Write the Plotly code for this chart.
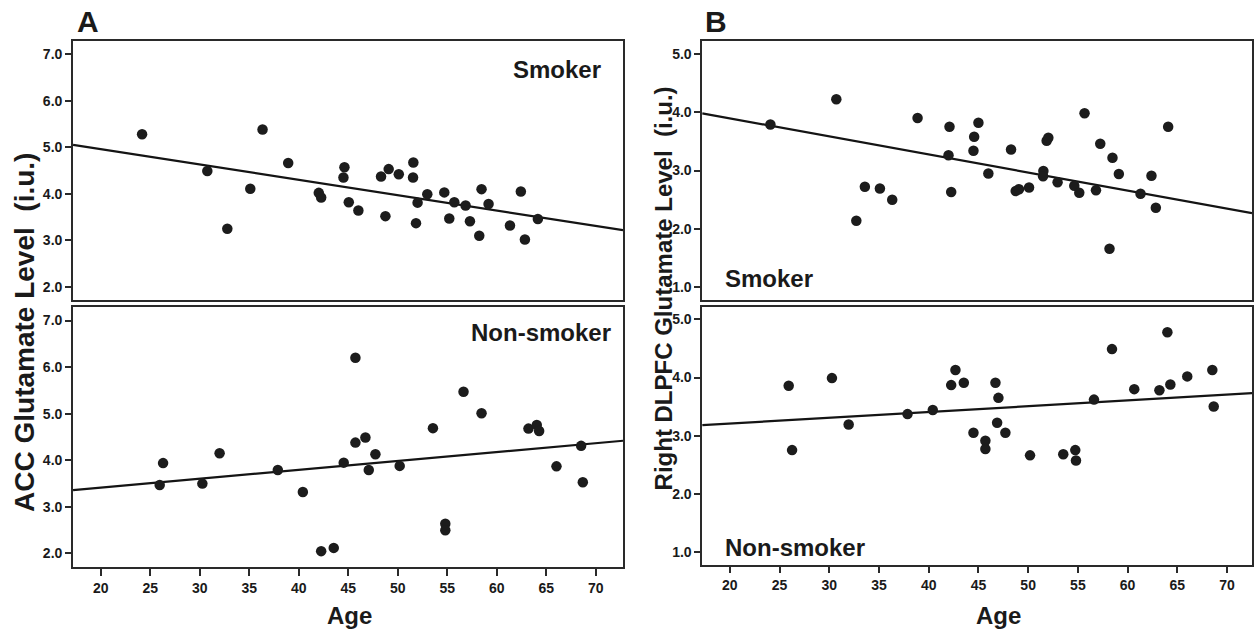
import plotly.graph_objects as go

# ---------------- data ----------------
acc_smoker_age = [24.17, 30.76, 32.78, 35.10, 36.34, 38.93, 42.02, 42.26, 44.61, 44.51,
                  45.05, 46.02, 48.31, 49.08, 48.75, 50.10, 51.57, 51.54, 52.00, 51.84,
                  52.98, 54.70, 55.20, 55.71, 56.85, 57.29, 58.23, 58.46, 59.17, 61.33,
                  62.43, 62.84, 64.15]
acc_smoker_glu = [5.28, 4.49, 3.25, 4.11, 5.38, 4.66, 4.02, 3.92, 4.57, 4.35,
                  3.82, 3.64, 4.37, 4.53, 3.52, 4.42, 4.67, 4.35, 3.81, 3.37,
                  3.99, 4.03, 3.47, 3.82, 3.75, 3.41, 3.10, 4.10, 3.78, 3.32,
                  4.05, 3.02, 3.46]
acc_smoker_fit_age = [17.2, 72.75]
acc_smoker_fit_glu = [5.05, 3.22]

acc_non_age = [25.95, 26.29, 30.26, 32.00, 37.88, 40.41, 42.26, 43.53, 44.54, 45.72,
               45.72, 46.73, 47.07, 47.74, 50.19, 53.55, 54.80, 54.80, 56.64, 58.46,
               63.20, 64.04, 64.28, 66.03, 68.52, 68.69]
acc_non_glu = [3.47, 3.94, 3.50, 4.15, 3.79, 3.32, 2.05, 2.12, 3.95, 6.20,
               4.38, 4.49, 3.79, 4.13, 3.88, 4.69, 2.64, 2.50, 5.47, 5.01,
               4.68, 4.76, 4.63, 3.87, 4.31, 3.53]
acc_non_fit_age = [17.2, 72.75]
acc_non_fit_glu = [3.36, 4.42]

dl_smoker_age = [24.08, 30.71, 32.72, 33.58, 35.09, 36.33, 38.88, 42.09, 41.99, 42.26,
                 45.00, 44.57, 44.50, 46.00, 48.28, 48.75, 49.08, 50.09, 51.53, 51.50,
                 51.86, 52.03, 52.96, 54.64, 55.14, 55.67, 56.82, 57.25, 58.18, 58.48,
                 59.12, 61.30, 62.40, 62.84, 64.08]
dl_smoker_glu = [3.79, 4.22, 2.14, 2.72, 2.69, 2.50, 3.90, 3.75, 3.26, 2.63,
                 3.82, 3.58, 3.34, 2.95, 3.36, 2.65, 2.68, 2.71, 2.99, 2.90,
                 3.51, 3.56, 2.80, 2.74, 2.62, 3.98, 2.66, 3.46, 1.66, 3.22,
                 2.94, 2.60, 2.91, 2.36, 3.75]
dl_smoker_fit_age = [17.22, 72.51]
dl_smoker_fit_glu = [3.98, 2.27]

dl_non_age = [25.92, 26.26, 30.27, 31.95, 37.87, 40.41, 42.26, 42.69, 43.53, 44.50,
              45.70, 45.70, 46.71, 47.01, 46.88, 47.71, 50.19, 53.53, 54.74, 54.81,
              56.62, 58.43, 60.67, 63.20, 64.30, 64.00, 66.00, 68.52, 68.66]
dl_non_glu = [3.86, 2.75, 3.99, 3.19, 3.37, 3.44, 3.87, 4.13, 3.91, 3.05,
              2.91, 2.77, 3.91, 3.65, 3.22, 3.05, 2.66, 2.68, 2.75, 2.57,
              3.62, 4.49, 3.80, 3.78, 3.88, 4.78, 4.02, 4.13, 3.50]
dl_non_fit_age = [17.22, 72.51]
dl_non_fit_glu = [3.18, 3.73]

x_ticks = [20, 25, 30, 35, 40, 45, 50, 55, 60, 65, 70]
acc_y_ticks = [2.0, 3.0, 4.0, 5.0, 6.0, 7.0]
dl_y_ticks = [1.0, 2.0, 3.0, 4.0, 5.0]

# ---------------- layout helpers ----------------
W, H = 1254, 629
def px(x):
    return x / W
def py(y):
    return 1 - y / H

DOT = "#1c1c1c"
LINE = "#141414"
AX = "#2a2a2a"
FONT = "Liberation Sans, Arial, sans-serif"

fig = go.Figure()

panels = [
    ("x", "y", acc_smoker_age, acc_smoker_glu, acc_smoker_fit_age, acc_smoker_fit_glu),
    ("x2", "y2", acc_non_age, acc_non_glu, acc_non_fit_age, acc_non_fit_glu),
    ("x3", "y3", dl_smoker_age, dl_smoker_glu, dl_smoker_fit_age, dl_smoker_fit_glu),
    ("x4", "y4", dl_non_age, dl_non_glu, dl_non_fit_age, dl_non_fit_glu),
]
for xa, ya, ax_, ay_, fx, fy in panels:
    fig.add_trace(go.Scatter(x=fx, y=fy, mode="lines", xaxis=xa, yaxis=ya,
                             line=dict(color=LINE, width=2.2), showlegend=False,
                             cliponaxis=True))
    fig.add_trace(go.Scatter(x=ax_, y=ay_, mode="markers", xaxis=xa, yaxis=ya,
                             marker=dict(color=DOT, size=10.5, line=dict(width=0)),
                             showlegend=False))

tickfont = dict(family=FONT, size=14, color="#1a1a1a")

def xaxis(domain, rng, anchor, labels):
    d = dict(domain=domain, range=rng, anchor=anchor, showgrid=False, zeroline=False,
             showline=True, mirror=True, linecolor=AX, linewidth=1.5,
             tickfont=tickfont)
    if labels:
        d.update(tickmode="array", tickvals=x_ticks,
                 ticktext=["<b>%d</b>" % v for v in x_ticks],
                 ticks="outside", ticklen=7,
                 tickwidth=1.5, tickcolor=AX, showticklabels=True)
    else:
        d.update(ticks="", showticklabels=False)
    return d

def yaxis(domain, rng, anchor, vals):
    return dict(domain=domain, range=rng, anchor=anchor, showgrid=False, zeroline=False,
                showline=True, mirror=True, linecolor=AX, linewidth=1.5,
                ticks="outside", ticklen=6, tickwidth=1.5, tickcolor=AX,
                tickmode="array", tickvals=vals,
                ticktext=["<b>%.1f</b>" % v for v in vals], tickfont=tickfont)

xA = [px(73), px(624)]
xB = [px(703.3), 1.0]
yTop = [py(300), py(41)]
yBot = [py(567), py(307)]
yBotB = [py(564.5), py(306.7)]

fig.update_layout(
    width=W, height=H,
    margin=dict(l=0, r=0, t=0, b=0),
    paper_bgcolor="white", plot_bgcolor="white",
    xaxis=xaxis(xA, [17.18, 72.75], "y", False),
    yaxis=yaxis(yTop, [1.72, 7.28], "x", acc_y_ticks),
    xaxis2=xaxis(xA, [17.18, 72.75], "y2", True),
    yaxis2=yaxis(yBot, [1.71, 7.29], "x2", acc_y_ticks),
    xaxis3=xaxis(xB, [17.22, 72.51], "y3", False),
    yaxis3=yaxis(yTop, [0.78, 5.22], "x3", dl_y_ticks),
    xaxis4=xaxis(xB, [17.22, 72.51], "y4", True),
    yaxis4=yaxis(yBotB, [0.78, 5.22], "x4", dl_y_ticks),
)

def ann(text, x, y, size, xanchor="center", yanchor="middle", angle=0):
    fig.add_annotation(text="<b>" + text + "</b>", x=px(x), y=py(y),
                       xref="paper", yref="paper",
                       showarrow=False, xanchor=xanchor, yanchor=yanchor,
                       textangle=angle,
                       font=dict(family=FONT, size=size, color="#1a1a1a"))

NB = "\u00a0"
ann("A", 75, 22, 30, xanchor="left")
ann("B", 704, 22, 30, xanchor="left")
ann("Smoker", 603.5, 69, 24, xanchor="right")
ann("Non-smoker", 613.5, 332, 24, xanchor="right")
ann("Smoker", 724, 279, 24, xanchor="left")
ann("Non-smoker", 724, 547, 24, xanchor="left")
ann("Age", 350, 615, 24)
ann("Age", 1000, 615, 24)
ann("ACC Glutamate Level" + NB * 2 + "(i.u.)", 24, 332, 28, angle=-90)
ann("Right DLPFC Glutamate Level" + NB * 2 + "(i.u.)", 665, 288.5, 24, angle=-90)

fig.write_html("out.html",
               config={"displayModeBar": False},
               post_script="document.body.style.margin='0';document.body.style.overflow='hidden';")
